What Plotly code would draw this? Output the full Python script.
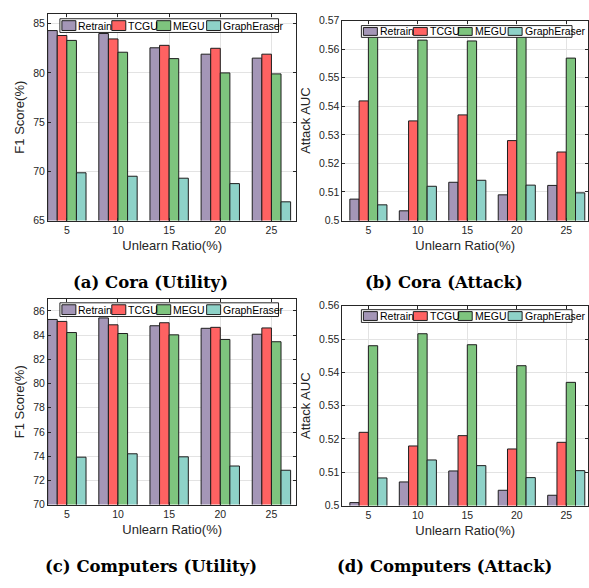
import plotly.graph_objects as go

# ---- data -------------------------------------------------------------
ratios = ["5", "10", "15", "20", "25"]
methods = ["Retrain", "TCGU", "MEGU", "GraphEraser"]
colors = ["#A496B7", "#FF6262", "#7EC47E", "#8ED2C8"]

cora_f1 = {
    "Retrain":     [84.3, 84.0, 82.55, 81.9, 81.5],
    "TCGU":        [83.8, 83.45, 82.8, 82.5, 81.9],
    "MEGU":        [83.3, 82.1, 81.45, 80.0, 79.9],
    "GraphEraser": [69.85, 69.5, 69.3, 68.75, 66.9],
}
cora_auc = {
    "Retrain":     [0.5075, 0.5034, 0.5134, 0.5090, 0.5123],
    "TCGU":        [0.5419, 0.5349, 0.5370, 0.5280, 0.5240],
    "MEGU":        [0.5660, 0.5632, 0.5629, 0.5655, 0.5569],
    "GraphEraser": [0.5055, 0.5120, 0.5141, 0.5124, 0.5097],
}
comp_f1 = {
    "Retrain":     [85.3, 85.43, 84.78, 84.57, 84.08],
    "TCGU":        [85.14, 84.86, 85.03, 84.65, 84.6],
    "MEGU":        [84.22, 84.14, 84.03, 83.65, 83.46],
    "GraphEraser": [73.92, 74.2, 73.95, 73.19, 72.84],
}
comp_auc = {
    "Retrain":     [0.5009, 0.5071, 0.5104, 0.5046, 0.5031],
    "TCGU":        [0.5220, 0.5179, 0.5210, 0.5170, 0.5190],
    "MEGU":        [0.5480, 0.5516, 0.5483, 0.5420, 0.5370],
    "GraphEraser": [0.5083, 0.5137, 0.5120, 0.5084, 0.5105],
}

f1_ticks_cora = [65, 70, 75, 80, 85]
f1_ticks_comp = [70, 72, 74, 76, 78, 80, 82, 84, 86]
auc_ticks_cora = [0.5, 0.51, 0.52, 0.53, 0.54, 0.55, 0.56, 0.57]
auc_ticks_comp = [0.5, 0.51, 0.52, 0.53, 0.54, 0.55, 0.56]

captions = ["(a) Cora (Utility)", "(b) Cora (Attack)",
            "(c) Computers (Utility)", "(d) Computers (Attack)"]

# ---- layout helpers ---------------------------------------------------
W, H = 589, 588


def px(x):
    return x / W


def py(y):
    return 1 - y / H


AXIS_COLOR = "#262626"
GRID_COLOR = "#E3E3E3"
TICK_FONT = dict(family="Liberation Sans, Arial", size=10.5, color=AXIS_COLOR)
TITLE_FONT = dict(family="Liberation Sans, Arial", size=13, color=AXIS_COLOR)

# panel boxes: (left, right, top, bottom) in pixels, x-range, y-range, ticks
panels = [
    dict(data=cora_f1, box=(48, 297, 8, 219), xr=[-0.37, 4.49], yr=[65, 86],
         ticks=f1_ticks_cora, ytitle="F1 Score(%)", legend=(60, 13, 279, 27),
         cap=(151, 282)),
    dict(data=cora_auc, box=(343, 589, 15, 219), xr=[-0.525, 4.44], yr=[0.5, 0.57],
         ticks=auc_ticks_cora, ytitle="Attack AUC", legend=(362, 20, 573, 32),
         cap=(445, 282)),
    dict(data=comp_f1, box=(48, 297, 299, 509), xr=[-0.37, 4.49], yr=[70, 87],
         ticks=f1_ticks_comp, ytitle="F1 Score(%)", legend=(60, 303, 279, 317),
         cap=(151, 572)),
    dict(data=comp_auc, box=(343, 589, 306, 510), xr=[-0.525, 4.44], yr=[0.5, 0.56],
         ticks=auc_ticks_comp, ytitle="Attack AUC", legend=(362, 310, 573, 323),
         cap=(445, 572)),
]

# legend entry offsets (icon left edge, px from the legend box's left edge)
legend_offsets = [2, 52, 97, 147]
ICON_W = 14

fig = go.Figure()
shapes = []
annotations = []
positions = list(range(len(ratios)))

for i, p in enumerate(panels):
    n = "" if i == 0 else str(i + 1)
    xa, ya = "x" + n, "y" + n
    for m, c in zip(methods, colors):
        fig.add_trace(go.Bar(
            x=positions, y=p["data"][m], name=m, marker_color=c,
            marker_line=dict(color="#1E1E1E", width=1),
            xaxis=xa, yaxis=ya, showlegend=False,
        ))
    l, r, t, b = p["box"]
    tick_text = [("%g" % v) for v in p["ticks"]]
    fig.layout["xaxis" + n] = dict(
        domain=[px(l), min(px(r), 1.0)], range=p["xr"], anchor=ya,
        tickmode="array", tickvals=positions, ticktext=ratios,
        ticks="inside", ticklen=3, tickcolor=AXIS_COLOR,
        showline=True, linecolor=AXIS_COLOR, linewidth=1, mirror="ticks",
        showgrid=True, gridcolor=GRID_COLOR, zeroline=False,
        tickfont=TICK_FONT,
        title=dict(text="Unlearn Ratio(%)", font=TITLE_FONT, standoff=5),
    )
    fig.layout["yaxis" + n] = dict(
        domain=[py(b), py(t)], range=p["yr"], anchor=xa,
        tickmode="array", tickvals=p["ticks"], ticktext=tick_text,
        ticks="inside", ticklen=3, tickcolor=AXIS_COLOR,
        showline=True, linecolor=AXIS_COLOR, linewidth=1, mirror="ticks",
        showgrid=True, gridcolor=GRID_COLOR, zeroline=False,
        tickfont=TICK_FONT,
        title=dict(text=p["ytitle"], font=TITLE_FONT, standoff=5),
    )

    # boxed legend drawn on top of the bars
    bl, bt, br, bb = p["legend"]
    shapes.append(dict(type="rect", xref="paper", yref="paper",
                       x0=px(bl), x1=px(br), y0=py(bb), y1=py(bt),
                       fillcolor="white", line=dict(color="#262626", width=1),
                       layer="above"))
    for off, m, c in zip(legend_offsets, methods, colors):
        shapes.append(dict(type="rect", xref="paper", yref="paper",
                           x0=px(bl + off), x1=px(bl + off + ICON_W),
                           y0=py(bb - 2), y1=py(bt + 2),
                           fillcolor=c, line=dict(color="#1E1E1E", width=1),
                           layer="above"))
        annotations.append(dict(
            xref="paper", yref="paper", x=px(bl + off + ICON_W + 0.5),
            y=py((bt + bb) / 2), text=m, showarrow=False,
            xanchor="left", yanchor="middle",
            font=dict(family="Liberation Sans, Arial", size=10.5, color="black"),
        ))

    # sub-figure caption
    cx, cy = p["cap"]
    annotations.append(dict(
        xref="paper", yref="paper", x=px(cx), y=py(cy), text="<b>%s</b>" % captions[i],
        showarrow=False, xanchor="center", yanchor="middle",
        font=dict(family="DejaVu Serif", size=16.5, color="black"),
    ))

fig.update_layout(
    width=W, height=H, margin=dict(l=0, r=0, t=0, b=0),
    paper_bgcolor="white", plot_bgcolor="white",
    barmode="group", bargap=0.25, bargroupgap=0,
    shapes=shapes, annotations=annotations,
)

fig.write_html("out.html")
